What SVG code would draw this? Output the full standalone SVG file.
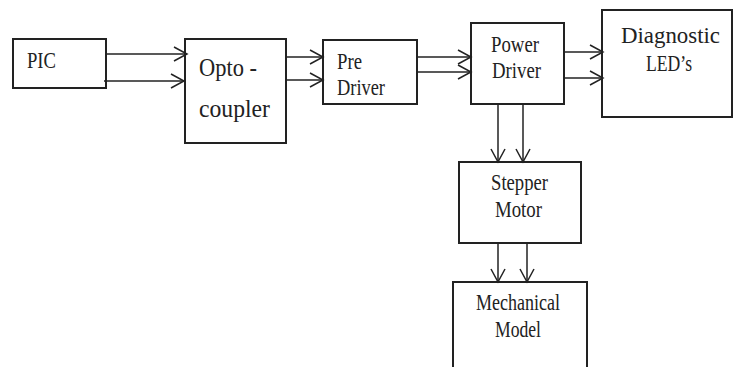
<svg xmlns="http://www.w3.org/2000/svg" width="734" height="367" viewBox="0 0 734 367">
<style>
.box{fill:#fff;stroke:#222;stroke-width:2}
.lbl{font-family:"Liberation Serif","Times New Roman",serif;fill:#222;font-size:23px}
.big{font-size:26px}
.dg{font-size:24px}
.con line{stroke:#222;stroke-width:1.5}
</style>
<defs>
<marker id="arr" markerUnits="userSpaceOnUse" markerWidth="16" markerHeight="16" viewBox="0 0 16 16" refX="14" refY="8" orient="auto">
<path d="M1,1 L14,8 L1,15" fill="none" stroke="#222" stroke-width="1.5"/>
</marker>
</defs>
<rect width="734" height="367" fill="#fff"/>
<g id="pic">
<rect class="box" x="13" y="39" width="93" height="49"/>
<text class="lbl" x="27" y="68" textLength="29" lengthAdjust="spacingAndGlyphs">PIC</text>
</g>
<g id="opto">
<rect class="box" x="185" y="39" width="101" height="104"/>
<text class="lbl big" x="199" y="76" textLength="58" lengthAdjust="spacingAndGlyphs">Opto -</text>
<text class="lbl big" x="199" y="117" textLength="71" lengthAdjust="spacingAndGlyphs">coupler</text>
</g>
<g id="predriver">
<rect class="box" x="323" y="40" width="94" height="64"/>
<text class="lbl" x="337" y="69" textLength="25" lengthAdjust="spacingAndGlyphs">Pre</text>
<text class="lbl" x="337" y="95" textLength="48" lengthAdjust="spacingAndGlyphs">Driver</text>
</g>
<g id="powerdriver">
<rect class="box" x="471" y="23" width="93" height="81"/>
<text class="lbl" x="491" y="52" textLength="48" lengthAdjust="spacingAndGlyphs">Power</text>
<text class="lbl" x="492" y="78" textLength="49" lengthAdjust="spacingAndGlyphs">Driver</text>
</g>
<g id="diagnostic">
<rect class="box" x="602" y="10" width="130" height="107"/>
<text class="lbl dg" x="621" y="43" textLength="99" lengthAdjust="spacingAndGlyphs">Diagnostic</text>
<text class="lbl dg" x="646" y="71" textLength="46" lengthAdjust="spacingAndGlyphs">LED’s</text>
</g>
<g id="stepper">
<rect class="box" x="459" y="162" width="122" height="81"/>
<text class="lbl" x="491" y="190" textLength="57" lengthAdjust="spacingAndGlyphs">Stepper</text>
<text class="lbl" x="495" y="217" textLength="47" lengthAdjust="spacingAndGlyphs">Motor</text>
</g>
<g id="mechanical">
<rect class="box" x="453" y="282" width="134" height="90"/>
<text class="lbl" x="476" y="310" textLength="84" lengthAdjust="spacingAndGlyphs">Mechanical</text>
<text class="lbl" x="495" y="337" textLength="46" lengthAdjust="spacingAndGlyphs">Model</text>
</g>
<g id="connectors" class="con">
<line x1="107" y1="54" x2="187" y2="54" marker-end="url(#arr)"/>
<line x1="104" y1="81" x2="184" y2="81" marker-end="url(#arr)"/>
<line x1="286" y1="57" x2="323" y2="57" marker-end="url(#arr)"/>
<line x1="286" y1="80" x2="323" y2="80" marker-end="url(#arr)"/>
<line x1="417" y1="57" x2="471" y2="57" marker-end="url(#arr)"/>
<line x1="417" y1="72" x2="471" y2="72" marker-end="url(#arr)"/>
<line x1="564" y1="52" x2="603" y2="52" marker-end="url(#arr)"/>
<line x1="564" y1="78" x2="603" y2="78" marker-end="url(#arr)"/>
<line x1="498" y1="104" x2="498" y2="162" marker-end="url(#arr)"/>
<line x1="523" y1="104" x2="523" y2="162" marker-end="url(#arr)"/>
<line x1="498" y1="243" x2="498" y2="282" marker-end="url(#arr)"/>
<line x1="527" y1="243" x2="527" y2="282" marker-end="url(#arr)"/>
</g>
</svg>
